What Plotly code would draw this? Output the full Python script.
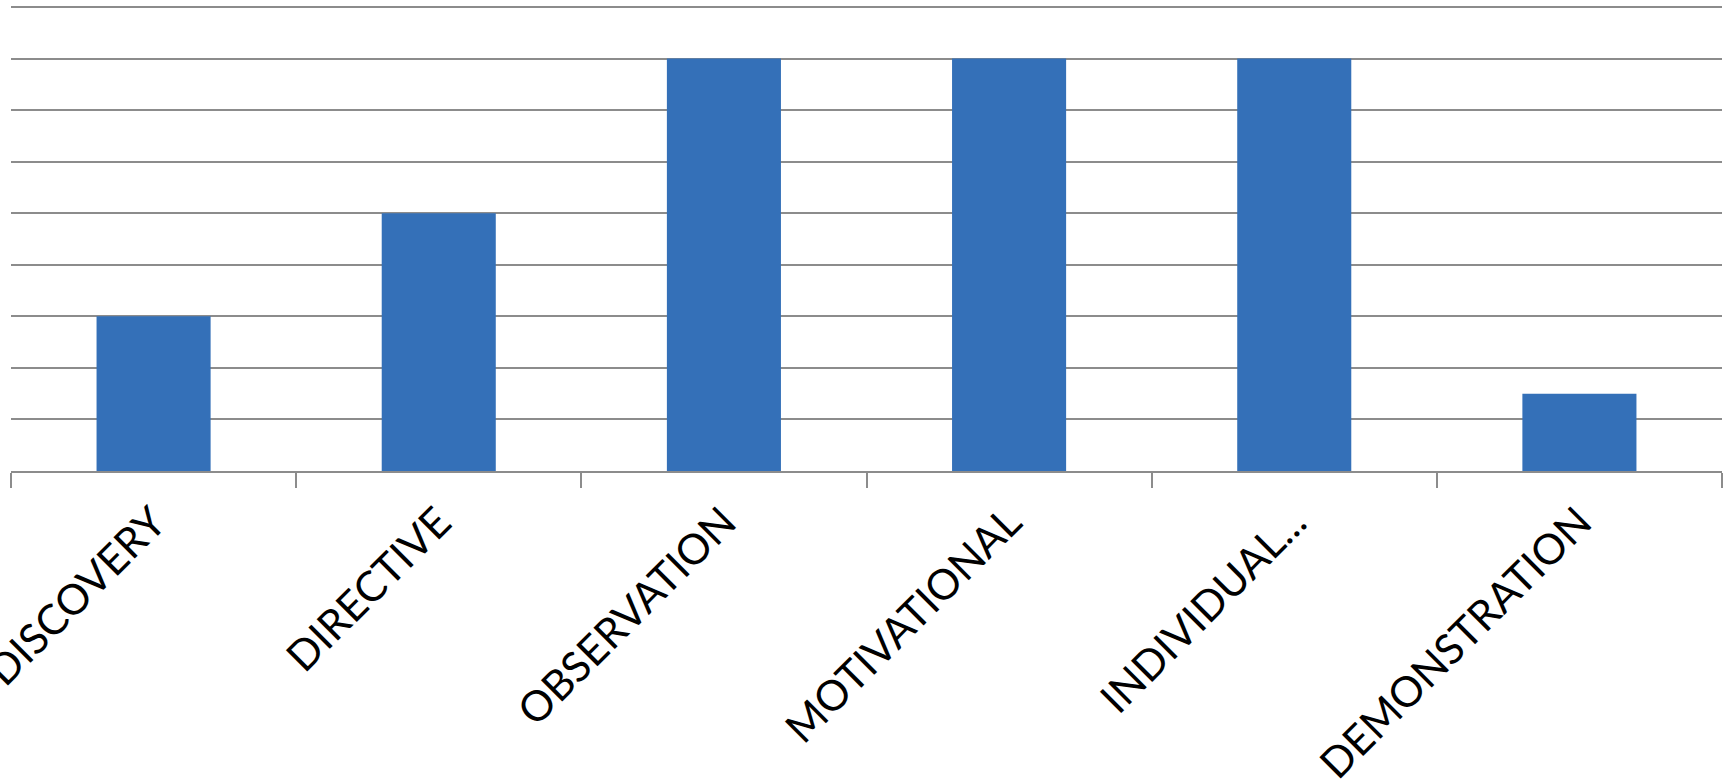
import plotly.graph_objects as go

categories = ["DISCOVERY", "DIRECTIVE", "OBSERVATION", "MOTIVATIONAL", "INDIVIDUAL...", "DEMONSTRATION"]
values = [3, 5, 8, 8, 8, 1.5]

fig = go.Figure(go.Bar(
    x=categories, y=values,
    marker=dict(color="#3470b8", line=dict(width=0)),
    width=0.4,
))

fig.update_layout(
    width=1725, height=783,
    margin=dict(l=11, r=3, t=6, b=312, autoexpand=False),
    paper_bgcolor="white", plot_bgcolor="white",
    showlegend=False,
    font=dict(family="Lato, Carlito, Calibri, sans-serif", color="black"),
)
fig.update_yaxes(
    range=[0, 9.02], dtick=1, tick0=0, showticklabels=False,
    showgrid=True, gridcolor="#8c8c8c", gridwidth=1.5,
    zeroline=False, showline=False, automargin=False,
)
fig.update_xaxes(
    showgrid=False, showline=True, linecolor="#8c8c8c", linewidth=1.5,
    ticks="outside", tickson="boundaries", ticklen=15, tickcolor="#8c8c8c", tickwidth=1.5,
    tickangle=-45, tickfont=dict(size=42, color="black"),
    ticklabelstandoff=8,
    automargin=False,
)

fig.write_html("out.html")
